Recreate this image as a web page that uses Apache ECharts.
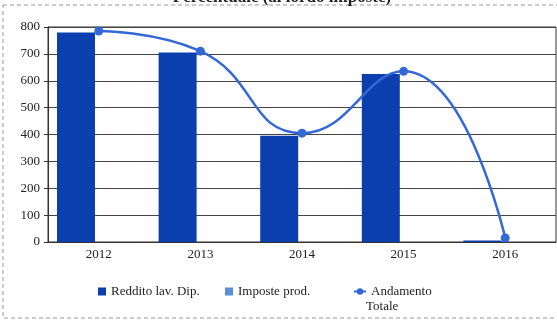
<!DOCTYPE html>
<html><head><meta charset="utf-8">
<script src="https://cdn.jsdelivr.net/npm/echarts@6/dist/echarts.min.js"></script>
<style>html,body{margin:0;padding:0;background:#fff}#c{width:557px;height:320px}</style>
</head><body><div id="c"></div>
<script>
var categories = ['2012','2013','2014','2015','2016'];
var reddito = [780, 705, 395, 625, 6];
var imposte = [0, 0, 0, 0, 0];
var andamento = [785, 710, 405, 635, 15];
var yTicks = {min: 0, max: 800, interval: 100};

var serif = '"Liberation Serif", "DejaVu Serif", serif';
var legendText = {fontFamily: serif, fontSize: 13, color: '#222'};
function leg(name, icon, left, fmt) {
  var o = {top: 280, left: left, itemWidth: icon ? 8 : 12, itemHeight: 8, itemGap: 0,
    textStyle: legendText, data: [icon ? {name: name, icon: icon} : {name: name}]};
  if (fmt) o.formatter = fmt;
  return o;
}
var chart = echarts.init(document.getElementById('c'), null, {renderer: 'canvas'});
chart.setOption({
  animation: false,
  backgroundColor: '#fff',
  graphic: [
    {type: 'rect', shape: {x: 3, y: 5, width: 560, height: 313},
      style: {fill: 'none', stroke: '#999', lineWidth: 1, lineDash: [4, 3]}, z: -1},
    {type: 'text', x: 282, y: 6, z: 10,
      style: {text: 'Percentuale (al lordo imposte)', font: 'bold 17px "Liberation Serif", serif', fill: '#222',
        textAlign: 'center', textVerticalAlign: 'bottom'}},
    {type: 'text', left: 366, top: 300,
      style: {text: 'Totale', font: '13px "Liberation Serif", serif', fill: '#222'}}
  ],
  grid: {left: 48, right: 1, top: 27, bottom: 78, show: true, borderColor: '#333', borderWidth: 1},
  legend: [
    leg('Reddito lav. Dip.', 'rect', 93),
    leg('Imposte prod.', 'rect', 220),
    leg('Andamento Totale', null, 348, function () { return 'Andamento'; })
  ],
  xAxis: {type: 'category', data: categories,
    axisLine: {lineStyle: {color: '#333'}}, axisTick: {show: false},
    axisLabel: {fontFamily: serif, fontSize: 13, color: '#222', margin: 6}},
  yAxis: {type: 'value', min: yTicks.min, max: yTicks.max, interval: yTicks.interval,
    axisLine: {show: true, lineStyle: {color: '#333'}}, axisTick: {show: true, length: 4, lineStyle: {color: '#333'}},
    splitLine: {lineStyle: {color: '#444', width: 1}},
    axisLabel: {fontFamily: serif, fontSize: 13, color: '#222', margin: 8}},
  series: [
    {name: 'Reddito lav. Dip.', type: 'bar', data: reddito, barWidth: 38, barGap: '20%',
      itemStyle: {color: '#0b3fae'}},
    {name: 'Imposte prod.', type: 'bar', data: imposte, barWidth: 38,
      itemStyle: {color: '#5b8fd8'}},
    {name: 'Andamento Totale', type: 'line', data: andamento, smooth: 0.5,
      symbol: 'circle', symbolSize: 9,
      lineStyle: {color: '#3468d6', width: 2.5}, itemStyle: {color: '#3468d6'}, z: 5}
  ]
});
</script></body></html>
